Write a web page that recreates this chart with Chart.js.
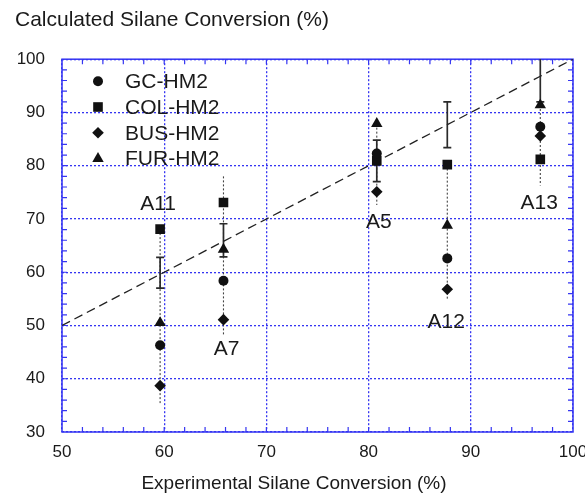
<!DOCTYPE html>
<html>
<head>
<meta charset="utf-8">
<script src="https://cdn.jsdelivr.net/npm/chart.js@4/dist/chart.umd.min.js"></script>
<style>
  html, body { margin: 0; padding: 0; background: #fff; }
  #wrap { width: 585px; height: 500px; }
</style>
</head>
<body>
<div id="wrap"><canvas id="silaneChart" width="585" height="500"></canvas></div>
<script>
// sample groups and their experimental conversion (%)
const groups = ['A11', 'A7', 'A5', 'A12', 'A13']
const expX = [59.6, 65.8, 80.8, 87.7, 96.8]

// calculated conversion (%) per model
const gcHM2 = [46.3, 58.4, 82.3, 62.6, 87.3]
const colHM2 = [68.1, 73.1, 80.9, 80.2, 81.2]
const busHM2 = [38.7, 51.1, 75.1, 56.8, 85.6]
const furHM2 = [50.5, 64.3, 87.9, 68.8, 91.4]

// experimental error bars
const errMid = [59.9, 66.0, 80.9, 87.7, 97.0]
const errHalf = [2.9, 3.1, 3.9, 4.3, 5.0]

// gray dotted drop lines for each group
const dropTop = [68.1, 78.0, 87.9, 80.2, 91.4]
const dropBottom = [35.4, 48.0, 72.6, 54.8, 76.3]

// group label anchors (data coords)
const labelX = [59.4, 66.1, 81.0, 87.6, 96.7]
const labelY = [72.8, 45.5, 69.3, 50.7, 72.9]

// axes
const xTicks = [50, 60, 70, 80, 90, 100]
const yTicks = [30, 40, 50, 60, 70, 80, 90, 100]
const parity = [50, 100]

const FONT = "'Liberation Sans', Arial, sans-serif"
const BLUE = '#3535f2'
const INK = '#1a1a1a'

function pts(ys) {
  return expX.map((v, i) => ({x: v, y: ys[i]}))
}

const overlay = {
  id: 'overlay',
  beforeDatasetsDraw(chart) {
    const ctx = chart.ctx, a = chart.chartArea
    const x = chart.scales.x, y = chart.scales.y
    ctx.save()
    // frame + inward minor ticks
    ctx.setLineDash([])
    ctx.strokeStyle = BLUE
    ctx.lineWidth = 1.5
    ctx.strokeRect(a.left, a.top, a.right - a.left, a.bottom - a.top)
    ctx.lineWidth = 1.2
    ctx.beginPath()
    for (let v = x.min + 2; v < x.max; v += 2) {
      const px = x.getPixelForValue(v)
      ctx.moveTo(px, a.bottom); ctx.lineTo(px, a.bottom - 5)
      ctx.moveTo(px, a.top); ctx.lineTo(px, a.top + 5)
    }
    for (let v = y.min + 2; v < y.max; v += 2) {
      const py = y.getPixelForValue(v)
      ctx.moveTo(a.left, py); ctx.lineTo(a.left + 5, py)
      ctx.moveTo(a.right, py); ctx.lineTo(a.right - 5, py)
    }
    ctx.stroke()

    ctx.beginPath()
    ctx.rect(a.left, a.top, a.right - a.left, a.bottom - a.top)
    ctx.clip()
    // drop lines
    ctx.strokeStyle = '#444'
    ctx.lineWidth = 1.1
    ctx.setLineDash([2, 2])
    expX.forEach((v, i) => {
      const px = x.getPixelForValue(v)
      ctx.beginPath()
      ctx.moveTo(px, y.getPixelForValue(dropTop[i]))
      ctx.lineTo(px, y.getPixelForValue(dropBottom[i]))
      ctx.stroke()
    })
    // error bars
    ctx.setLineDash([])
    ctx.strokeStyle = '#2a2a2a'
    ctx.lineWidth = 1.7
    expX.forEach((v, i) => {
      const px = x.getPixelForValue(v)
      const t = y.getPixelForValue(errMid[i] + errHalf[i])
      const b = y.getPixelForValue(errMid[i] - errHalf[i])
      ctx.beginPath()
      ctx.moveTo(px, t); ctx.lineTo(px, b)
      ctx.moveTo(px - 4, t); ctx.lineTo(px + 4, t)
      ctx.moveTo(px - 4, b); ctx.lineTo(px + 4, b)
      ctx.stroke()
    })
    ctx.restore()
  },
  afterDatasetsDraw(chart) {
    const ctx = chart.ctx, a = chart.chartArea
    const x = chart.scales.x, y = chart.scales.y
    ctx.save()
    ctx.fillStyle = INK
    ctx.font = '21px ' + FONT
    ctx.textAlign = 'center'
    ctx.textBaseline = 'middle'
    groups.forEach((g, i) => {
      ctx.fillText(g, x.getPixelForValue(labelX[i]), y.getPixelForValue(labelY[i]))
    })
    // legend inside the plot
    ctx.textAlign = 'left'
    chart.data.datasets.filter(d => !d.hideLegend).forEach((d, i) => {
      const cy = a.top + 22 + i * 25.8
      ctx.fillStyle = '#111'
      Chart.helpers.drawPoint(ctx, {pointStyle: d.pointStyle, radius: d.pointRadius, rotation: 0, borderWidth: 0}, a.left + 36, cy)
      ctx.fillStyle = INK
      ctx.fillText(d.label, a.left + 63, cy + 1)
    })
    ctx.restore()
  }
}

const ctx = document.getElementById('silaneChart').getContext('2d')
new Chart(ctx, {
  type: 'scatter',
  data: {
    datasets: [
      {label: 'GC-HM2', data: pts(gcHM2), pointStyle: 'circle', pointRadius: 5},
      {label: 'COL-HM2', data: pts(colHM2), pointStyle: 'rect', pointRadius: 6.8},
      {label: 'BUS-HM2', data: pts(busHM2), pointStyle: 'rectRot', pointRadius: 5.8},
      {label: 'FUR-HM2', data: pts(furHM2), pointStyle: 'triangle', pointRadius: 6.6},
      {type: 'line', label: 'parity', hideLegend: true, data: parity.map(v => ({x: v, y: v})),
        borderColor: '#222', borderWidth: 1.3, borderDash: [9, 5], pointRadius: 0, fill: false}
    ].map(d => Object.assign({backgroundColor: '#111', borderColor: '#111', borderWidth: 0, pointHoverRadius: d.pointRadius}, d))
  },
  options: {
    responsive: false,
    animation: false,
    events: [],
    layout: {padding: {left: 15, right: 12, top: 0, bottom: 0}},
    plugins: {
      legend: {display: false},
      tooltip: {enabled: false},
      title: {
        display: true,
        text: 'Calculated Silane Conversion (%)',
        align: 'start',
        color: INK,
        font: {family: FONT, size: 21, weight: 'normal'},
        padding: {top: 8, bottom: 26}
      },
      subtitle: {
        display: true,
        position: 'bottom',
        text: 'Experimental Silane Conversion (%)',
        color: INK,
        font: {family: FONT, size: 19, weight: 'normal'},
        padding: {top: 0, bottom: 5}
      }
    },
    scales: {
      x: {
        type: 'linear',
        min: 50, max: 100,
        afterBuildTicks: s => { s.ticks = xTicks.map(v => ({value: v})) },
        afterFit: s => { s.height = 40.2; s.paddingRight = 0; s.paddingLeft = 0 },
        grid: {color: BLUE, lineWidth: 1.3, drawTicks: false},
        border: {display: false, dash: [2, 2]},
        ticks: {color: INK, padding: 10, font: {family: FONT, size: 17}, maxRotation: 0}
      },
      y: {
        type: 'linear',
        min: 30, max: 100,
        afterBuildTicks: s => { s.ticks = yTicks.map(v => ({value: v})) },
        afterFit: s => { s.width = 47 },
        grid: {color: BLUE, lineWidth: 1.3, drawTicks: false},
        border: {display: false, dash: [2, 2]},
        ticks: {color: INK, padding: 17, font: {family: FONT, size: 17}}
      }
    }
  },
  plugins: [overlay]
})
</script>
</body>
</html>
